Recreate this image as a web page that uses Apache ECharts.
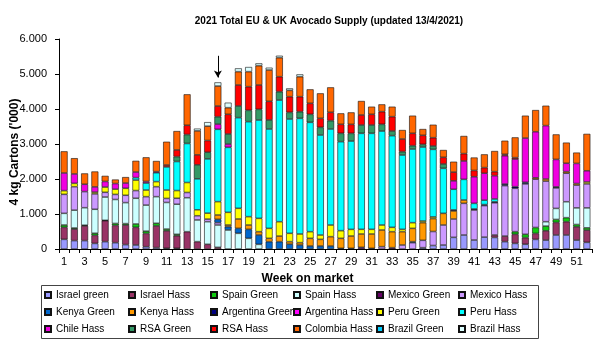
<!DOCTYPE html>
<html>
<head>
<meta charset="utf-8">
<script src="https://cdn.jsdelivr.net/npm/echarts@6/dist/echarts.min.js"></script>
<style>
  html, body { margin: 0; padding: 0; background: #fff; }
  #chart { width: 600px; height: 351px; }
</style>
</head>
<body>
<div id="chart"></div>
<script>
// weeks 1..52
var weeks = [];
for (var w = 1; w <= 52; w++) weeks.push(String(w));

// supply per origin, '000 x 4kg cartons (week 1..52)
var israelGreen = [276,240,240,160,210,180,125,115,65,40,20,20,0,0,0,0,0,0,0,0,0,0,0,0,0,0,0,0,0,0,0,0,0,0,0,38,100,114,333,400,257,340,330,210,160,135,275,255,400,400,255,190];
var israelHass = [343,330,420,230,600,495,560,505,380,620,500,360,495,210,135,48,0,0,0,0,0,0,0,0,0,0,0,0,0,0,0,0,0,0,0,0,0,0,0,0,0,0,70,160,260,190,170,265,360,380,380,350];
var spainGreen = [67,30,20,60,10,55,40,95,65,75,50,40,0,0,0,0,0,0,0,0,0,0,0,0,0,0,0,0,0,0,0,0,0,0,0,0,0,0,0,0,0,0,0,0,75,95,170,135,85,115,65,65];
var spainHass = [333,510,500,685,665,685,600,735,745,760,760,860,970,620,645,638,543,448,305,133,0,0,0,0,0,0,0,0,0,0,0,0,0,0,0,0,0,0,0,0,0,0,0,0,0,0,0,125,315,455,475,570];
var mexicoGreen = [0,0,0,0,0,0,0,0,0,0,0,0,0,0,0,0,0,0,0,0,0,0,0,0,0,0,0,0,0,48,0,0,38,0,0,0,0,0,0,0,0,0,0,0,0,0,0,0,0,0,0,0];
var mexicoHass = [543,670,460,440,135,145,210,220,240,285,115,170,150,120,75,67,0,0,0,0,0,0,0,0,0,0,0,0,0,0,0,67,0,114,181,210,400,572,524,905,857,900,920,1440,1240,1440,1380,1160,585,815,650,685];
var kenyaGreen = [0,0,0,0,0,0,0,0,0,0,0,0,0,0,0,95,95,143,257,267,210,210,140,114,86,86,86,19,19,0,19,0,0,0,29,0,0,0,0,0,0,0,0,0,0,0,0,0,0,0,0,0];
var kenyaHass = [0,0,0,0,0,0,0,0,0,0,0,0,0,0,0,124,48,267,124,95,95,160,70,67,219,190,266,286,352,381,410,476,457,381,380,504,370,333,230,95,0,0,0,0,0,0,40,60,0,45,45,0];
var argentinaGreen = [0,0,0,0,0,0,0,0,0,0,0,0,0,0,0,0,0,0,0,0,0,0,0,0,0,0,0,0,0,0,0,0,0,0,0,0,0,0,30,0,30,30,30,45,45,45,0,0,30,0,0,0];
var argentinaHass = [0,0,0,0,0,0,0,0,0,0,0,0,0,0,0,0,0,0,0,0,0,0,0,0,0,0,0,0,0,0,0,0,0,0,0,0,0,0,0,0,0,0,0,0,0,0,0,0,0,0,0,0];
var peruGreen = [105,95,0,50,150,150,200,300,190,145,240,220,285,170,170,381,362,305,238,381,285,410,238,248,190,124,334,219,190,133,133,143,124,67,162,48,47,0,0,0,0,0,0,0,0,0,0,0,0,0,0,55];
var peruHass = [0,0,0,0,0,0,0,70,200,255,660,830,1115,885,1550,2067,1857,2590,2714,2810,2839,3476,3266,3304,3124,2857,2743,2543,2524,2743,2743,2685,2619,2124,2105,2114,1930,1286,590,590,160,125,80,0,0,0,0,0,0,0,0,0];
var chileHass = [505,270,210,150,160,160,150,160,45,30,0,0,0,0,0,150,95,0,0,0,0,0,0,0,0,0,0,0,0,0,0,0,0,0,0,0,0,0,240,525,760,770,665,810,790,1265,1315,1525,785,240,575,320];
var rsaGreen = [0,0,0,0,0,0,0,0,0,0,0,140,255,400,190,210,286,333,324,305,257,238,190,190,229,219,238,238,219,238,238,191,133,95,95,76,95,124,0,0,0,0,0,0,0,0,0,0,0,0,0,0];
var rsaHass = [0,0,0,0,0,0,0,0,0,0,55,190,265,285,335,305,562,600,676,695,533,429,448,429,314,257,238,257,257,286,305,362,410,362,353,258,238,190,250,210,180,160,115,40,40,0,0,0,0,0,0,0];
var colombiaHass = [619,450,310,440,160,115,170,320,690,305,665,540,885,685,410,571,190,381,429,552,895,543,181,571,400,715,714,314,343,400,219,209,286,257,505,180,372,210,298,505,370,380,590,390,580,640,620,570,715,590,310,1055];
var brazilGreen = [0,0,0,0,0,0,0,0,0,0,0,0,0,0,0,0,0,0,0,0,0,0,0,0,0,0,0,0,0,0,0,0,0,0,0,0,0,0,0,0,0,0,0,0,0,0,0,0,0,0,0,0];
var brazilHass = [0,0,0,0,0,0,0,0,0,0,0,0,0,65,115,105,143,95,133,67,67,57,57,67,0,0,0,0,0,0,0,0,0,0,0,0,0,0,0,0,0,0,0,0,0,0,0,0,0,0,0,0];

var yTicks = [0, 1000, 2000, 3000, 4000, 5000, 6000];

// arrow marking week 16
var arrowWeek = '16';
var arrowFrom = 5520;
var arrowTo = 4900;

(function() {
    var chart = echarts.init(document.getElementById('chart'));
    var arial = "'Liberation Sans', Arial, sans-serif";

    // stacking order bottom -> top, same as legend order
    var origins = [
        { name: 'Israel green', data: israelGreen, color: '#9999FF' },
        { name: 'Israel Hass', data: israelHass, color: '#993366' },
        { name: 'Spain Green', data: spainGreen, color: '#11CC11' },
        { name: 'Spain Hass', data: spainHass, color: '#CCFFFF' },
        { name: 'Mexico Green', data: mexicoGreen, color: '#660066' },
        { name: 'Mexico Hass', data: mexicoHass, color: '#CC99FF' },
        { name: 'Kenya Green', data: kenyaGreen, color: '#0066CC' },
        { name: 'Kenya Hass', data: kenyaHass, color: '#FF9900' },
        { name: 'Argentina Green', data: argentinaGreen, color: '#000080' },
        { name: 'Argentina Hass', data: argentinaHass, color: '#FF00FF' },
        { name: 'Peru Green', data: peruGreen, color: '#FFFF00' },
        { name: 'Peru Hass', data: peruHass, color: '#00FFFF' },
        { name: 'Chile Hass', data: chileHass, color: '#F000E0' },
        { name: 'RSA Green', data: rsaGreen, color: '#339966' },
        { name: 'RSA Hass', data: rsaHass, color: '#FF0000' },
        { name: 'Colombia Hass', data: colombiaHass, color: '#FF6600' },
        { name: 'Brazil Green', data: brazilGreen, color: '#00CCFF' },
        { name: 'Brazil Hass', data: brazilHass, color: '#DDFFFF' }
    ];

    var series = origins.map(function(o) {
        return {
            name: o.name,
            type: 'bar',
            stack: 'supply',
            barWidth: '68%',
            itemStyle: { color: o.color, borderColor: '#111', borderWidth: 0.6 },
            emphasis: { disabled: true },
            data: o.data.map(function(v) { return v ? v : '-'; })
        };
    });

    // arrow above week 16
    series[series.length - 1].markLine = {
        silent: true,
        symbol: ['none', 'arrow'],
        symbolSize: [6, 7],
        label: { show: false },
        lineStyle: { color: '#000', width: 1, type: 'solid' },
        data: [[{ coord: [arrowWeek, arrowFrom] }, { coord: [arrowWeek, arrowTo] }]]
    };

    // legend: 6 columns x 3 rows
    var legendX = [44, 128, 210, 293, 376, 458];
    var legends = [];
    for (var c = 0; c < 6; c++) {
        var names = [];
        for (var r = 0; r < 3; r++) names.push(origins[r * 6 + c].name);
        legends.push({
            orient: 'vertical',
            left: legendX[c],
            top: 289,
            padding: 0,
            itemGap: 5,
            itemWidth: 6,
            itemHeight: 6,
            icon: 'rect',
            selectedMode: false,
            textStyle: { fontSize: 10, lineHeight: 12, color: '#000', fontFamily: arial },
            data: names
        });
    }

    var option = {
        animation: false,
        backgroundColor: '#fff',
        title: {
            text: '2021 Total EU & UK Avocado Supply (updated 13/4/2021)',
            left: 324,
            textAlign: 'center',
            top: 11,
            textStyle: { fontSize: 10, fontWeight: 'bold', color: '#000', fontFamily: arial }
        },
        legend: legends,
        grid: { left: 59, right: 8, top: 39, bottom: 102, containLabel: false, outerBoundsMode: 'none' },
        xAxis: {
            type: 'category',
            data: weeks,
            name: 'Week on market',
            nameLocation: 'middle',
            nameGap: 24,
            nameTextStyle: { fontSize: 12, fontWeight: 'bold', color: '#000', fontFamily: arial, padding: [0, 36, 0, 0] },
            axisLine: { lineStyle: { color: '#000', width: 1 } },
            axisTick: { show: true, interval: 0, length: 4, lineStyle: { color: '#000' } },
            axisLabel: { interval: 1, margin: 7, fontSize: 11, color: '#000', fontFamily: arial }
        },
        yAxis: {
            type: 'value',
            min: yTicks[0],
            max: yTicks[yTicks.length - 1],
            interval: 1000,
            splitLine: { show: false },
            axisLine: { show: true, lineStyle: { color: '#000', width: 1 } },
            axisTick: { show: true, length: 4, lineStyle: { color: '#000' } },
            axisLabel: {
                margin: 12,
                fontSize: 11,
                color: '#000',
                fontFamily: arial,
                formatter: function(v) { return v === 0 ? '0' : (v / 1000) + '.000'; }
            }
        },
        graphic: [{
            type: 'rect',
            shape: { x: 41.5, y: 285.5, width: 497, height: 53 },
            style: { fill: 'none', stroke: '#444', lineWidth: 1 },
            silent: true
        }, {
            // y axis title
            type: 'text',
            x: 15,
            y: 152,
            rotation: Math.PI / 2,
            silent: true,
            style: {
                text: "4 kg Cartons ('000)",
                fill: '#000',
                font: "bold 12px 'Liberation Sans', Arial, sans-serif",
                textAlign: 'center',
                textVerticalAlign: 'middle'
            }
        }],
        series: series
    };
    chart.setOption(option);
})();
</script>
</body>
</html>
